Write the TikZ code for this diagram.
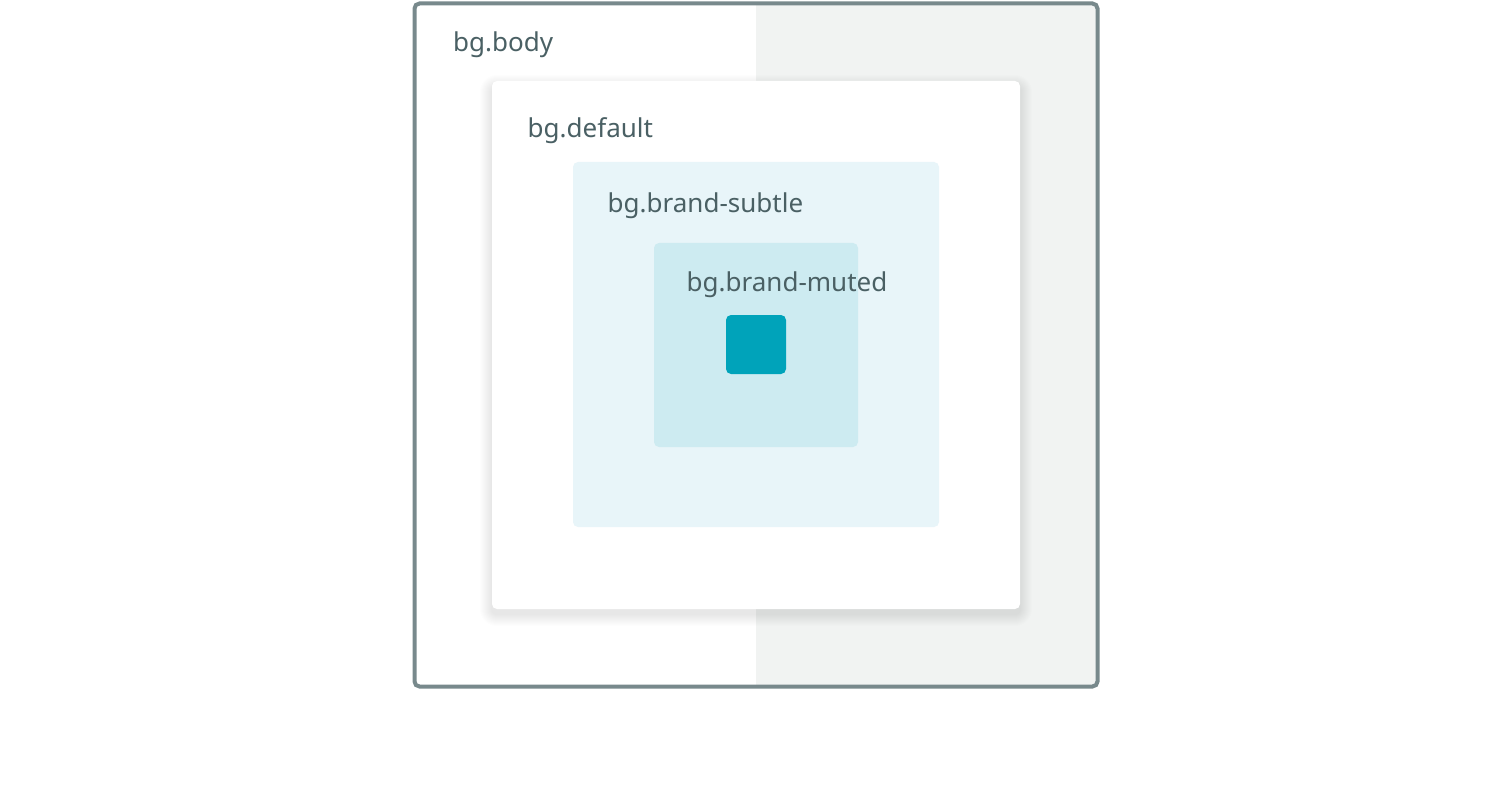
\documentclass[tikz,border=0pt]{standalone}
\usepackage{fontspec}
\setmainfont{Noto Sans}
\definecolor{textgray}{HTML}{4A6064}
\definecolor{framegray}{HTML}{78898C}
\definecolor{bodygray}{HTML}{F1F3F2}
\definecolor{brandsubtle}{HTML}{E8F5F9}
\definecolor{brandmuted}{HTML}{CDEBF1}
\definecolor{brand}{HTML}{00A3BA}
\tikzset{
  layer/.style={rounded corners=5pt, inner sep=0pt, draw=none},
  tag/.style={anchor=base west, inner sep=0pt, text=textgray,
    font=\fontsize{26pt}{30pt}\selectfont}
}
\begin{document}
\begin{tikzpicture}[x=1pt, y=-1pt]
    \useasboundingbox (0,0) rectangle (1512,786);
    % bg.body
    \fill[white, rounded corners=5pt] (414.5,3.5) rectangle (1097.5,686.5);
    \begin{scope}
        \clip[rounded corners=5pt] (414.5,3.5) rectangle (1097.5,686.5);
        \fill[bodygray] (756,0) rectangle (1100,690);
    \end{scope}
    \draw[framegray, line width=4pt, rounded corners=5pt]
        (414.5,3.5) rectangle (1097.5,686.5);
    \node[tag] (body) at (453,52) {bg.body};
    % shadow of bg.default
    \foreach \s in {1,...,12}
        \fill[black, opacity=0.008, rounded corners=5pt+\s pt]
            (492-\s,81-\s+6) rectangle (1020+\s,609+\s+5);
    % bg.default
    \node[layer, fill=white, minimum width=528pt, minimum height=528pt]
        (default) at (756,345) {};
    \node[tag] (defaultlabel) at (527.5,137.5) {bg.default};
    % bg.brand-subtle
    \node[layer, fill=brandsubtle, minimum width=366pt, minimum height=365pt]
        (subtle) at (756,344.5) {};
    \node[tag] (subtlelabel) at (607.5,212.5) {bg.brand-subtle};
    % bg.brand-muted
    \node[layer, fill=brandmuted, minimum width=204pt, minimum height=204pt]
        (muted) at (756,345) {};
    \node[tag] (mutedlabel) at (686.5,291.5) {bg.brand-muted};
    % brand
    \node[layer, fill=brand, minimum width=60pt, minimum height=59pt]
        (swatch) at (756,344.5) {};
\end{tikzpicture}
\end{document}
